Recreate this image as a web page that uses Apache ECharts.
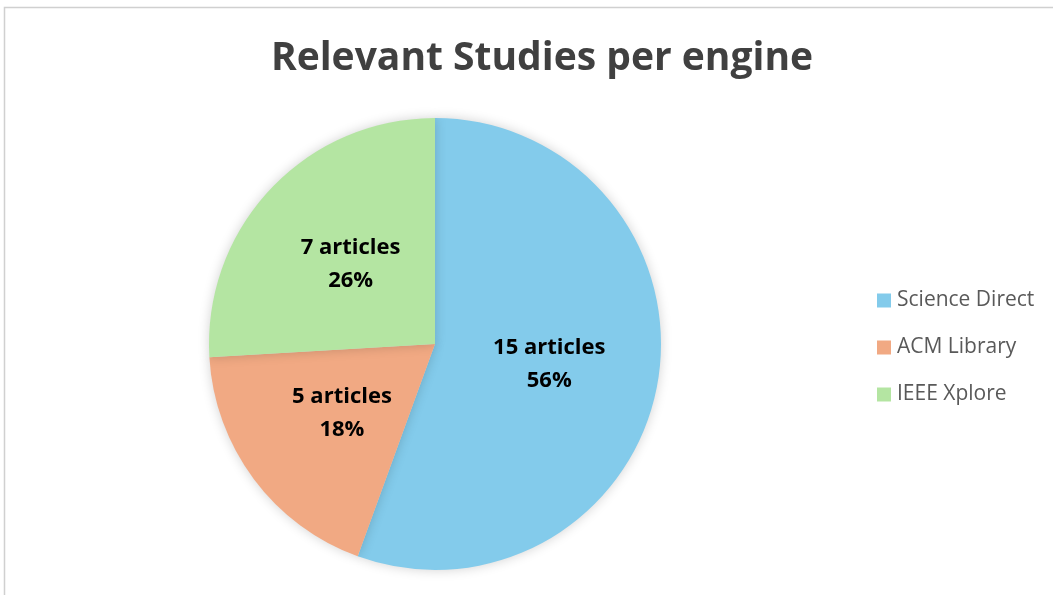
<!DOCTYPE html>
<html><head><meta charset="utf-8">
<script src="https://cdn.jsdelivr.net/npm/echarts@6/dist/echarts.min.js"></script>
<style>html,body{margin:0;padding:0;background:#fff}#c{width:1053px;height:595px}</style>
</head><body><div id="c"></div>
<script>
const categories = ['Science Direct', 'ACM Library', 'IEEE Xplore'];
const values = [15, 5, 7];
const pctLabels = ['56%', '18%', '26%'];
const colors = ['#83CBEB', '#F1A983', '#B4E5A2'];

const chart = echarts.init(document.getElementById('c'));
chart.setOption({
  backgroundColor: '#fff',
  animation: false,
  graphic: [{
    type: 'rect', shape: {x: 4.5, y: 7.5, width: 1200, height: 800},
    style: {fill: 'none', stroke: '#d0d0d0', lineWidth: 1.5}, silent: true
  }],
  title: {
    text: 'Relevant Studies per engine', left: 537, top: 34, textAlign: 'center',
    textStyle: {fontFamily: 'Open Sans', fontWeight: 'bold', fontSize: 39, color: '#404040'}
  },
  legend: {
    orient: 'vertical', left: 872, top: 285, itemGap: 26, itemWidth: 14, itemHeight: 14,
    icon: 'rect',
    textStyle: {fontFamily: 'Open Sans', fontSize: 21, color: '#595959', padding: [0,0,0,1]},
    data: categories
  },
  series: [{
    type: 'pie', center: [435, 344], radius: 226, startAngle: 90, clockwise: true,
    color: colors,
    itemStyle: {shadowBlur: 12, shadowColor: 'rgba(0,0,0,0.18)'},
    label: {
      position: 'inside', fontFamily: 'Open Sans', fontWeight: 'bold', fontSize: 22,
      color: '#000', lineHeight: 33,
      formatter: p => p.value + ' articles\n' + pctLabels[p.dataIndex]
    },
    emphasis: {disabled: true},
    data: categories.map((n, i) => ({name: n, value: values[i]}))
  }]
});
</script></body></html>
